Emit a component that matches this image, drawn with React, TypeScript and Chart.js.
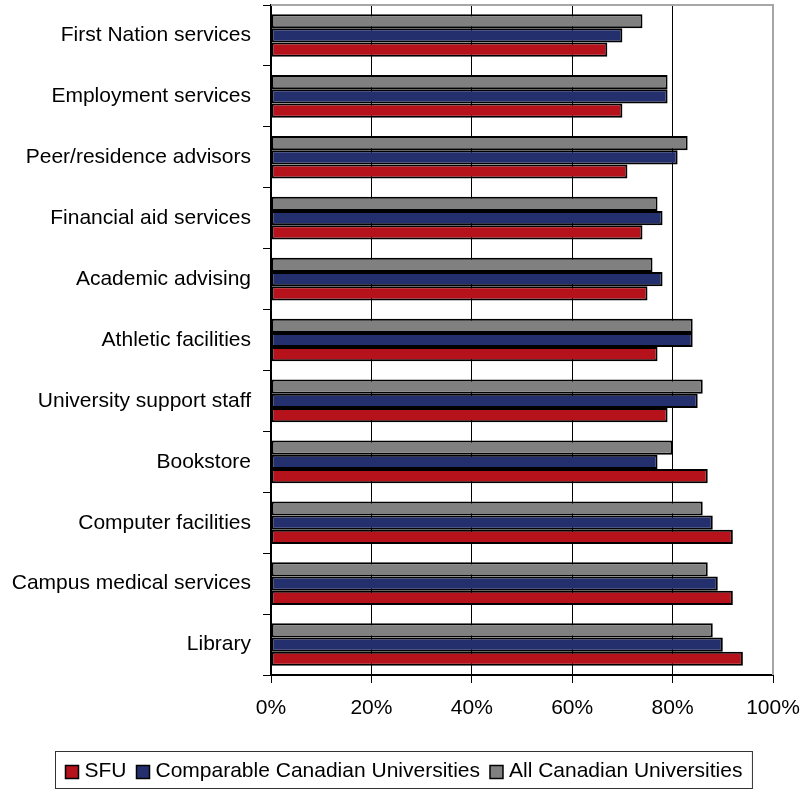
import React, { useEffect, useRef } from "react";
import { Chart, registerables } from "chart.js";

Chart.register(...registerables);

// Categories listed top to bottom as shown
const categories = [
  "First Nation services",
  "Employment services",
  "Peer/residence advisors",
  "Financial aid services",
  "Academic advising",
  "Athletic facilities",
  "University support staff",
  "Bookstore",
  "Computer facilities",
  "Campus medical services",
  "Library",
];

const sfuValues = [67, 70, 71, 74, 75, 77, 79, 87, 92, 92, 94];
const comparableValues = [70, 79, 81, 78, 78, 84, 85, 77, 88, 89, 90];
const allCanadianValues = [74, 79, 83, 77, 76, 84, 86, 80, 86, 87, 88];

const seriesNames = ["SFU", "Comparable Canadian Universities", "All Canadian Universities"];
const seriesColors = ["#B5121B", "#24306E", "#808080"];
const xTickValues = [0, 20, 40, 60, 80, 100];

const FONT = '"Liberation Sans", Arial, sans-serif';
const FONT_SIZE = 21;

const frameLegendPlugin = {
  id: "frameLegend",
  beforeDatasetsDraw(chart: any) {
    const { ctx, chartArea } = chart;
    ctx.save();
    ctx.strokeStyle = "#A6A6A6";
    ctx.lineWidth = 2;
    ctx.beginPath();
    ctx.moveTo(chartArea.left, chartArea.top);
    ctx.lineTo(chartArea.right, chartArea.top);
    ctx.lineTo(chartArea.right, chartArea.bottom);
    ctx.stroke();
    ctx.restore();
  },
  afterDraw(chart: any) {
    const { ctx, chartArea } = chart;
    const ds = chart.data.datasets;
    // legend order: SFU, Comparable, All (datasets stored reversed)
    const items = [...ds].reverse().map((d: any) => ({ name: d.label, color: d.backgroundColor }));
    ctx.save();
    ctx.font = `${FONT_SIZE}px ${FONT}`;
    const sq = 13;
    const gapSqText = 6;
    const gapItems = 10;
    const padX = 10;
    const widths = items.map((it: any) => ctx.measureText(it.name).width);
    let total = 0;
    widths.forEach((w: number, i: number) => {
      total += sq + gapSqText + w + (i < items.length - 1 ? gapItems : 0);
    });
    const boxW = total + padX * 2;
    const cx = 403.5;
    const boxX = Math.round(cx - boxW / 2) + 0.5;
    const boxY = chartArea.bottom + 76.5;
    const boxH = 37;
    ctx.strokeStyle = "#333";
    ctx.lineWidth = 1;
    ctx.strokeRect(boxX, boxY, boxW, boxH);
    const cy = boxY + boxH / 2 + 1;
    let x = boxX + padX;
    items.forEach((it: any, i: number) => {
      ctx.fillStyle = it.color;
      ctx.fillRect(x, cy - sq / 2 + 1, sq, sq);
      ctx.strokeStyle = "#000";
      ctx.lineWidth = 1.5;
      ctx.strokeRect(x, cy - sq / 2 + 1, sq, sq);
      x += sq + gapSqText;
      ctx.fillStyle = "#000";
      ctx.textBaseline = "middle";
      ctx.textAlign = "left";
      ctx.fillText(it.name, x, cy);
      x += widths[i] + gapItems;
    });
    ctx.restore();
  },
};

export default function App() {
  const canvasRef = useRef<HTMLCanvasElement | null>(null);

  useEffect(() => {
    if (!canvasRef.current) return;
    const seriesValues = [sfuValues, comparableValues, allCanadianValues];
    // top-to-bottom inside each group: All, Comparable, SFU
    const order = [2, 1, 0];
    const datasets = order.map((i) => ({
      label: seriesNames[i],
      data: seriesValues[i],
      backgroundColor: seriesColors[i],
      borderColor: "#000",
      borderWidth: 2,
      borderSkipped: false as any,
      categoryPercentage: 0.7,
      barPercentage: 1.0,
    }));

    const chart = new Chart(canvasRef.current, {
      type: "bar",
      data: { labels: categories, datasets },
      options: {
        indexAxis: "y",
        responsive: false,
        animation: false,
        devicePixelRatio: 1,
        layout: { padding: { left: 0, top: 5, right: 27, bottom: 0 } },
        plugins: {
          legend: { display: false },
          tooltip: { enabled: false },
        },
        scales: {
          x: {
            type: "linear",
            min: 0,
            max: 100,
            afterBuildTicks: (s: any) => {
              s.ticks = xTickValues.map((v) => ({ value: v }));
            },
            ticks: {
              callback: (v: any) => `${v}%`,
              font: { family: FONT, size: FONT_SIZE },
              color: "#000",
              padding: 13,
              maxRotation: 0,
              autoSkip: false,
            },
            grid: {
              color: (c: any) => (c.tick && c.tick.value === 100 ? "rgba(0,0,0,0)" : "#000"),
              tickColor: "#000",
              lineWidth: 1,
              tickLength: 8,
            },
            border: { color: "#000", width: 2 },
            afterFit: (s: any) => {
              s.height = 115;
              s.paddingLeft = 0;
              s.paddingRight = 0;
            },
          },
          y: {
            type: "category",
            ticks: {
              font: { family: FONT, size: FONT_SIZE },
              color: "#000",
              padding: 12,
              autoSkip: false,
            },
            grid: {
              drawOnChartArea: false,
              offset: true,
              tickLength: 8,
              color: "#000",
              tickColor: "#000",
            },
            border: { color: "#000", width: 2 },
            afterFit: (s: any) => {
              s.width = 271;
              s.paddingTop = 0;
              s.paddingBottom = 0;
            },
          },
        },
      } as any,
      plugins: [frameLegendPlugin],
    });
    return () => chart.destroy();
  }, []);

  return (
    <div style={{ position: "absolute", left: 0, top: 0, width: 800, height: 790, background: "#fff" }}>
      <canvas ref={canvasRef} width={800} height={790} />
    </div>
  );
}
